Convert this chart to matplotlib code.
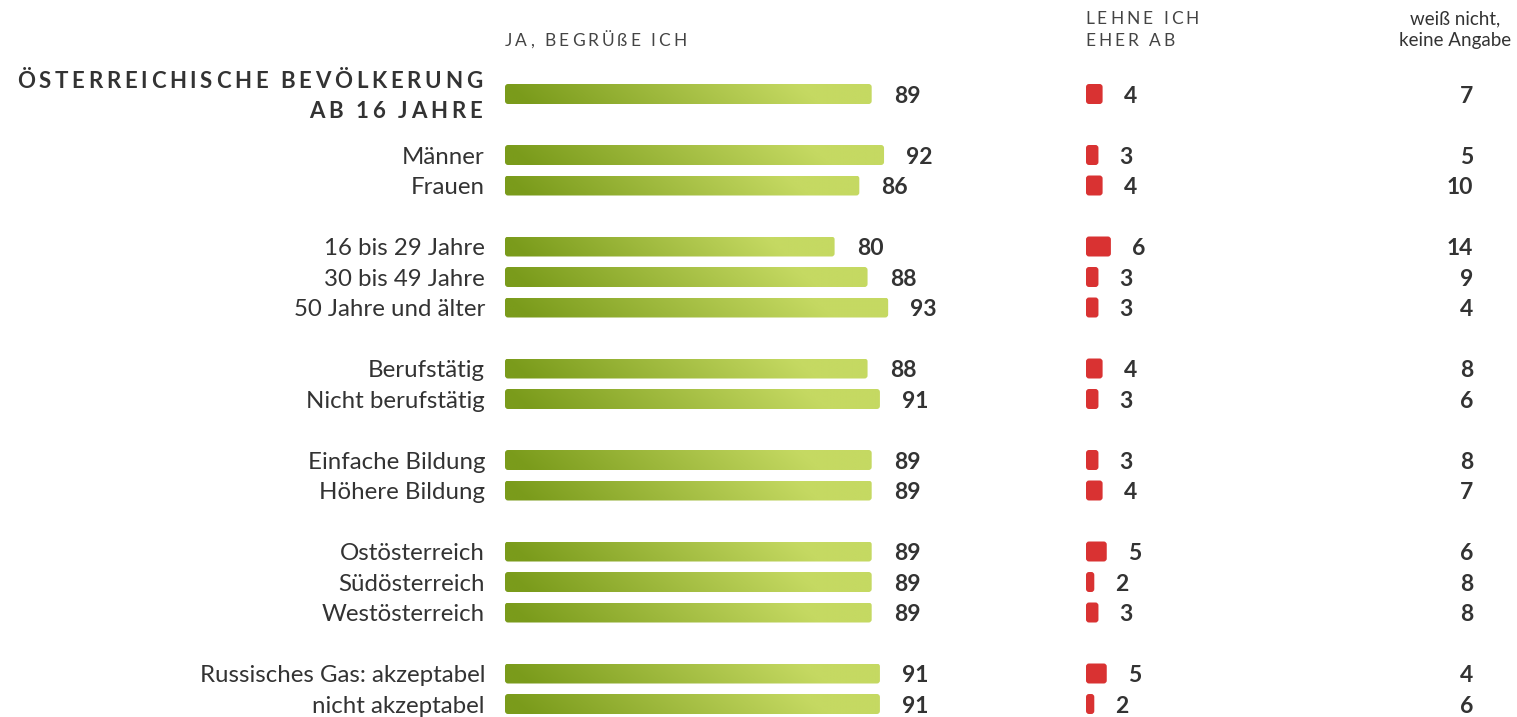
import matplotlib.pyplot as plt
import numpy as np
from matplotlib import transforms
from matplotlib.colors import LinearSegmentedColormap
from matplotlib.patches import FancyBboxPatch

plt.rcParams['font.family'] = ['Lato', 'DejaVu Sans']

# data
labels = ['Österreichische Bevölkerung ab 16 Jahre',
          'Männer', 'Frauen',
          '16 bis 29 Jahre', '30 bis 49 Jahre', '50 Jahre und älter',
          'Berufstätig', 'Nicht berufstätig',
          'Einfache Bildung', 'Höhere Bildung',
          'Ostösterreich', 'Südösterreich', 'Westösterreich',
          'Russisches Gas: akzeptabel', 'nicht akzeptabel']
group_sizes = [1, 2, 3, 2, 2, 3, 2]
ja = [89, 92, 86, 80, 88, 93, 88, 91, 89, 89, 89, 89, 89, 91, 91]
ab = [4, 3, 4, 6, 3, 3, 4, 3, 3, 4, 5, 2, 3, 5, 2]
wn = [7, 5, 10, 14, 9, 4, 8, 6, 8, 7, 6, 8, 8, 4, 6]

# row positions with a blank row between groups
pos = []
p = 0
for g in group_sizes:
    for _ in range(g):
        pos.append(p)
        p += 1
    p += 1

W, H = 1517, 717
fig = plt.figure(figsize=(W / 100, H / 100), dpi=100)
fig.patch.set_facecolor('white')

ROW = 30.5          # px per row
Y0 = 94             # px centre of first row
ylim = (pos[-1] + (H - (Y0 + pos[-1] * ROW)) / ROW, -Y0 / ROW)
TXT = '#333333'
BAR_H = 20 / ROW


def px_axes(x0, w):
    ax = fig.add_axes([x0 / W, 0, w / W, 1])
    ax.set_facecolor('none')
    for s in ax.spines.values():
        s.set_visible(False)
    ax.set_xticks([])
    ax.set_ylim(*ylim)
    return ax


def rounded(ax, y, v, px_per_unit, color):
    r = 3 / px_per_unit
    patch = FancyBboxPatch((0, y - BAR_H / 2), v, BAR_H,
                           boxstyle=f'round,pad=0,rounding_size={r}',
                           mutation_aspect=(3 / ROW) / r,
                           fc=color, ec='none')
    ax.add_patch(patch)
    return patch


# green bars
ax_g = px_axes(505, 412)
ax_g.set_xlim(0, 100)
green = LinearSegmentedColormap.from_list('g', ['#7a9b1b', '#c5d962'])
gx, gy = np.meshgrid(np.linspace(0, 1, 256), np.linspace(0, 1, 16))
grad = np.clip((gx - 0.06 * gy) / 0.8, 0, 1)
for y, v in zip(pos, ja):
    patch = rounded(ax_g, y, v, 4.12, 'none')
    im = ax_g.imshow(grad, cmap=green, extent=(0, v, y + BAR_H / 2, y - BAR_H / 2),
                     aspect='auto', interpolation='bilinear')
    im.set_clip_path(patch)
    ax_g.annotate(str(v), (v, y), xytext=(16, 0), textcoords='offset points',
                  ha='left', va='center_baseline', fontsize=16.5,
                  fontweight='bold', color=TXT)
ax_g.set_xlim(0, 100)
ax_g.set_ylim(*ylim)
ax_g.set_yticks(pos, [''] + labels[1:])
ax_g.tick_params(axis='y', length=0, pad=14.4, labelsize=17.3, labelcolor=TXT)

# red bars
ax_r = px_axes(1086, 41.5)
ax_r.set_xlim(0, 10)
ax_r.set_yticks([])
for y, v in zip(pos, ab):
    rounded(ax_r, y, v, 4.15, '#d93232')
    ax_r.annotate(str(v), (v, y), xytext=(15, 0), textcoords='offset points',
                  ha='left', va='center_baseline', fontsize=16.5,
                  fontweight='bold', color=TXT)

# "weiß nicht" column
trans = transforms.blended_transform_factory(fig.transFigure, ax_g.transData)
for y, v in zip(pos, wn):
    ax_g.text(1473 / W, y, str(v), transform=trans, ha='right',
              va='center_baseline', fontsize=16.5, fontweight='bold', color=TXT)


# letter-spaced headers
renderer = fig.canvas.get_renderer()


def text_width(s, **kw):
    t = fig.text(0, 0, s, **kw)
    w = t.get_window_extent(renderer).width
    t.remove()
    return w


def spaced(x, base, s, spacing, ha='left', **kw):
    ws = []
    for ch in s:
        if ch == ' ':
            ws.append(text_width('a a', **kw) - text_width('aa', **kw))
        else:
            ws.append(text_width(ch, **kw))
    total = sum(ws) + spacing * (len(s) - 1)
    cx = x - total if ha == 'right' else x
    for ch, w in zip(s, ws):
        fig.text(cx / W, (H - base) / H, ch, ha='left', va='baseline', **kw)
        cx += w + spacing


title_kw = dict(fontsize=16, fontweight='bold', color=TXT)
spaced(482, 88, 'ÖSTERREICHISCHE BEVÖLKERUNG', 3.7, ha='right', **title_kw)
spaced(482, 118, 'AB 16 JAHRE', 3.7, ha='right', **title_kw)

head_kw = dict(fontsize=12.5, color='#444444')
spaced(505, 46, 'JA, BEGRÜßE ICH', 3.0, **head_kw)
spaced(1085, 24, 'LEHNE ICH', 3.0, **head_kw)
spaced(1085, 46, 'EHER AB', 3.0, **head_kw)

fig.text(1455 / W, (H - 24) / H, 'weiß nicht,', ha='center', va='baseline',
         fontsize=13.5, color=TXT)
fig.text(1455 / W, (H - 46) / H, 'keine Angabe', ha='center', va='baseline',
         fontsize=13.5, color=TXT)

fig.savefig('out.png', dpi=100, facecolor='white')
